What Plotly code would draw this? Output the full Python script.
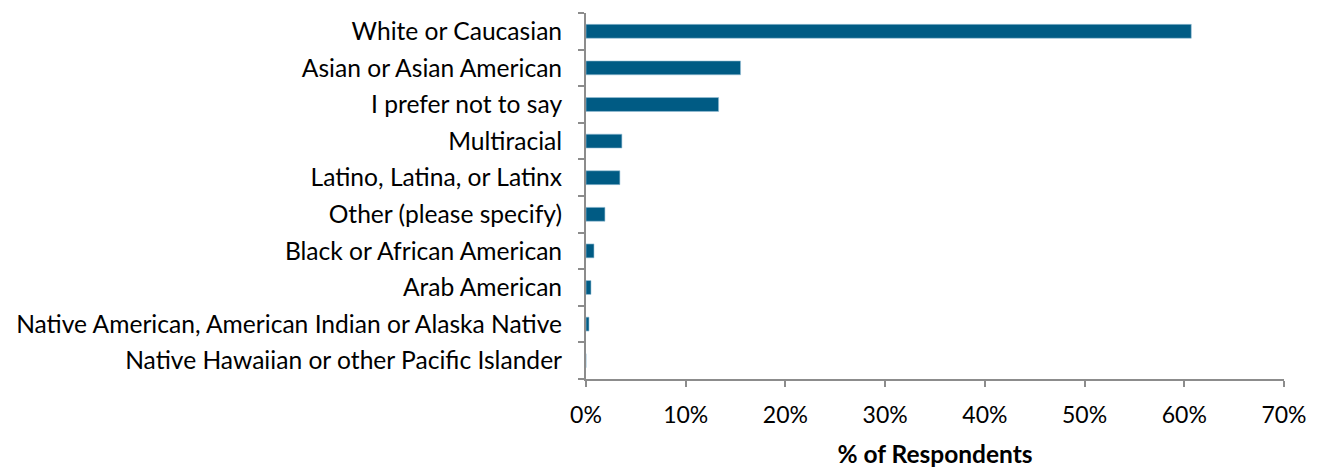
import plotly.graph_objects as go

categories = [
    "White or Caucasian",
    "Asian or Asian American",
    "I prefer not to say",
    "Multiracial",
    "Latino, Latina, or Latinx",
    "Other (please specify)",
    "Black or African American",
    "Arab American",
    "Native American, American Indian or Alaska Native",
    "Native Hawaiian or other Pacific Islander",
]
values = [0.607, 0.155, 0.133, 0.036, 0.034, 0.019, 0.008, 0.005, 0.003, 0.0]
x_ticks = [0, 0.1, 0.2, 0.3, 0.4, 0.5, 0.6, 0.7]
x_tick_labels = ["0%", "10%", "20%", "30%", "40%", "50%", "60%", "70%"]

FONT = "Lato, Carlito, Calibri, sans-serif"

fig = go.Figure(
    go.Bar(
        x=values,
        y=categories,
        orientation="h",
        marker=dict(color="#005b84", line=dict(color="#9cc3d8", width=0.6)),
        width=0.38,
    )
)

fig.update_layout(
    width=1312,
    height=460,
    margin=dict(l=578, r=36, t=5, b=89),
    plot_bgcolor="white",
    paper_bgcolor="white",
    showlegend=False,
    font=dict(family=FONT, size=24.6, color="#000000"),
)

fig.update_xaxes(
    range=[0, 0.7],
    tickvals=x_ticks,
    ticktext=x_tick_labels,
    showgrid=False,
    zeroline=False,
    showline=True,
    linecolor="#8c8c8c",
    linewidth=2,
    ticks="outside",
    ticklen=6,
    tickwidth=2,
    tickcolor="#8c8c8c",
    tickfont=dict(family=FONT, size=23),
    ticklabelstandoff=8,
    automargin=False,
    title=dict(text="<b>% of Respondents</b>", font=dict(family=FONT, size=24.5), standoff=20),
)

fig.update_yaxes(
    categoryorder="array",
    categoryarray=categories[::-1],
    showgrid=False,
    zeroline=False,
    showline=True,
    linecolor="#8c8c8c",
    linewidth=2,
    ticks="outside",
    ticklen=6,
    tickwidth=2,
    tickcolor="#8c8c8c",
    tickson="boundaries",
    tickfont=dict(family=FONT, size=24.6),
    ticklabelstandoff=17,
    automargin=False,
)

fig.write_html("out.html")
